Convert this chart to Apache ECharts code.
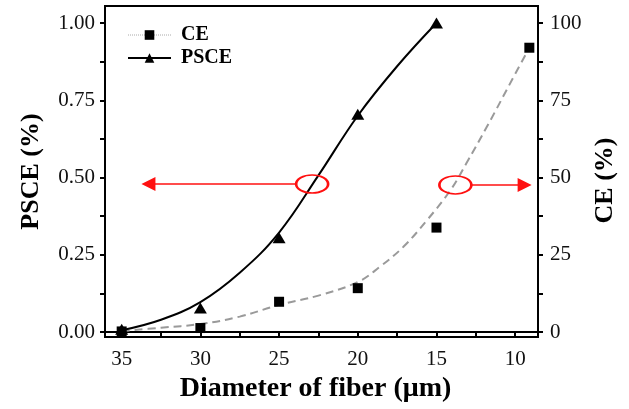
<!DOCTYPE html>
<html><head><meta charset="utf-8">
<script src="https://cdn.jsdelivr.net/npm/echarts@6/dist/echarts.min.js"></script>
<style>html,body{margin:0;padding:0;background:#fff}#c{width:629px;height:409px}</style>
</head><body><div id="c"></div>
<script>
// tick labels
const xTickLabels = [10, 15, 20, 25, 30, 35];
const xTickMarks = [10, 12.5, 15, 17.5, 20, 22.5, 25, 27.5, 30, 32.5, 35];
const leftTickLabels = [0, 0.25, 0.5, 0.75, 1.0];
const leftTickMarks = [0, 0.125, 0.25, 0.375, 0.5, 0.625, 0.75, 0.875, 1.0];
const rightTickLabels = [0, 25, 50, 75, 100];
const rightTickMarks = [0, 12.5, 25, 37.5, 50, 62.5, 75, 87.5, 100];

// measured points
const psceDiameter = [35, 30, 25, 20, 15];
const psceValues = [0.009, 0.078, 0.305, 0.705, 1.0];
const ceDiameter = [35, 30, 25, 20, 15, 9.1];
const ceValues = [0.2, 1.3, 9.8, 14.2, 33.8, 92];

// fitted curves
const psceFitX = [35, 32.5, 30, 27.5, 25, 22.5, 20, 17.5, 15];
const psceFitY = [0.006, 0.040, 0.097, 0.192, 0.322, 0.507, 0.700, 0.860, 1.0];
const ceFitX = [35, 32.5, 30, 27.5, 25, 22.5, 20, 18.6, 17.1, 15.6, 14.1, 13.1, 11.8, 10, 9.1];
const ceFitY = [0.3, 1.4, 2.6, 5.0, 8.8, 11.8, 16.2, 21.1, 27.6, 36.2, 46, 54.6, 66.4, 83.5, 92];

const zip = (a, b) => a.map((v, i) => [v, b[i]]);
const serif = 'Liberation Serif';
const red = '#ff1010';

const chart = echarts.init(document.getElementById('c'), null, {renderer: 'canvas'});
chart.setOption({
  animation: false,
  backgroundColor: '#fff',
  grid: {left: 105, right: 91, top: 6, bottom: 72, show: true, borderColor: '#000', borderWidth: 2, backgroundColor: 'transparent'},
  legend: {
    orient: 'vertical', left: 122, top: 20, itemWidth: 43, itemHeight: 12, itemGap: 3,
    textStyle: {fontFamily: serif, fontWeight: 'bold', fontSize: 20, color: '#000', lineHeight: 20, padding: [0, 0, 0, 5]},
    data: [
      {name: 'CE', lineStyle: {color: '#aaa', type: 'dotted', width: 1, opacity: 1}},
      {name: 'PSCE', lineStyle: {color: '#000', type: 'solid', width: 2, opacity: 1}}
    ]
  },
  xAxis: {
    type: 'value', inverse: true, min: 8.55, max: 36.06,
    name: 'Diameter of fiber (\u03bcm)', nameLocation: 'middle', nameGap: 33,
    nameTextStyle: {fontFamily: serif, fontWeight: 'bold', fontSize: 28, color: '#000', padding: [0, 12, 0, 0]},
    axisLine: {lineStyle: {color: '#000', width: 2}},
    axisTick: {inside: false, length: 5, customValues: xTickMarks, lineStyle: {color: '#000', width: 2}},
    axisLabel: {customValues: xTickLabels, margin: 12, fontFamily: serif, fontSize: 21, color: '#111'},
    splitLine: {show: false}
  },
  yAxis: [{
    type: 'value', position: 'left', min: -0.016, max: 1.055,
    name: 'PSCE (%)', nameLocation: 'middle', nameGap: 61,
    nameTextStyle: {fontFamily: serif, fontWeight: 'bold', fontSize: 26, color: '#000'},
    axisLine: {show: true, lineStyle: {color: '#000', width: 2}},
    axisTick: {show: true, inside: false, length: 5, customValues: leftTickMarks, lineStyle: {color: '#000', width: 2}},
    axisLabel: {customValues: leftTickLabels, margin: 10, fontFamily: serif, fontSize: 21, color: '#111', formatter: v => v.toFixed(2)},
    splitLine: {show: false}
  }, {
    type: 'value', position: 'right', min: -1.6, max: 105.5,
    name: 'CE (%)', nameLocation: 'middle', nameGap: 42,
    nameTextStyle: {fontFamily: serif, fontWeight: 'bold', fontSize: 26, color: '#000', padding: [0, 18, 0, 0]},
    axisLine: {show: true, lineStyle: {color: '#000', width: 2}},
    axisTick: {show: true, inside: false, length: 5, customValues: rightTickMarks, lineStyle: {color: '#000', width: 2}},
    axisLabel: {customValues: rightTickLabels, margin: 12, fontFamily: serif, fontSize: 21, color: '#111'},
    splitLine: {show: false}
  }],
  series: [
    {
      name: 'CE fit', type: 'line', yAxisIndex: 1, smooth: 0.4, showSymbol: false, silent: true,
      data: zip(ceFitX, ceFitY),
      lineStyle: {color: '#9a9a9a', width: 2, type: [8, 5]},
      markPoint: {
        symbol: 'circle', symbolSize: [32, 18], silent: true,
        itemStyle: {color: 'rgba(0,0,0,0)', borderColor: red, borderWidth: 2},
        label: {show: false},
        data: [{coord: [13.8, 47.6]}]
      },
      markLine: {
        silent: true, symbol: ['none', 'triangle'], symbolSize: [14, 14],
        lineStyle: {color: red, width: 1.5, type: 'solid'}, label: {show: false},
        data: [[{coord: [12.85, 47.6]}, {coord: [9.4, 47.6]}]]
      }
    },
    {
      name: 'PSCE fit', type: 'line', yAxisIndex: 0, smooth: 0.4, showSymbol: false, silent: true,
      data: zip(psceFitX, psceFitY),
      lineStyle: {color: '#000', width: 2},
      markPoint: {
        symbol: 'circle', symbolSize: [32, 18], silent: true,
        itemStyle: {color: 'rgba(0,0,0,0)', borderColor: red, borderWidth: 2},
        label: {show: false},
        data: [{coord: [22.9, 0.479]}]
      },
      markLine: {
        silent: true, symbol: ['none', 'triangle'], symbolSize: [14, 14],
        lineStyle: {color: red, width: 1.5, type: 'solid'}, label: {show: false},
        data: [[{coord: [23.9, 0.479]}, {coord: [33.3, 0.479]}]]
      }
    },
    {
      name: 'CE', type: 'line', yAxisIndex: 1, symbol: 'rect', symbolSize: 10,
      data: zip(ceDiameter, ceValues),
      itemStyle: {color: '#000'}, lineStyle: {width: 0, opacity: 0}
    },
    {
      name: 'PSCE', type: 'line', yAxisIndex: 0, symbol: 'triangle', symbolSize: [13, 11],
      data: zip(psceDiameter, psceValues),
      itemStyle: {color: '#000'}, lineStyle: {width: 0, opacity: 0}
    }
  ]
});
</script>
</body></html>
